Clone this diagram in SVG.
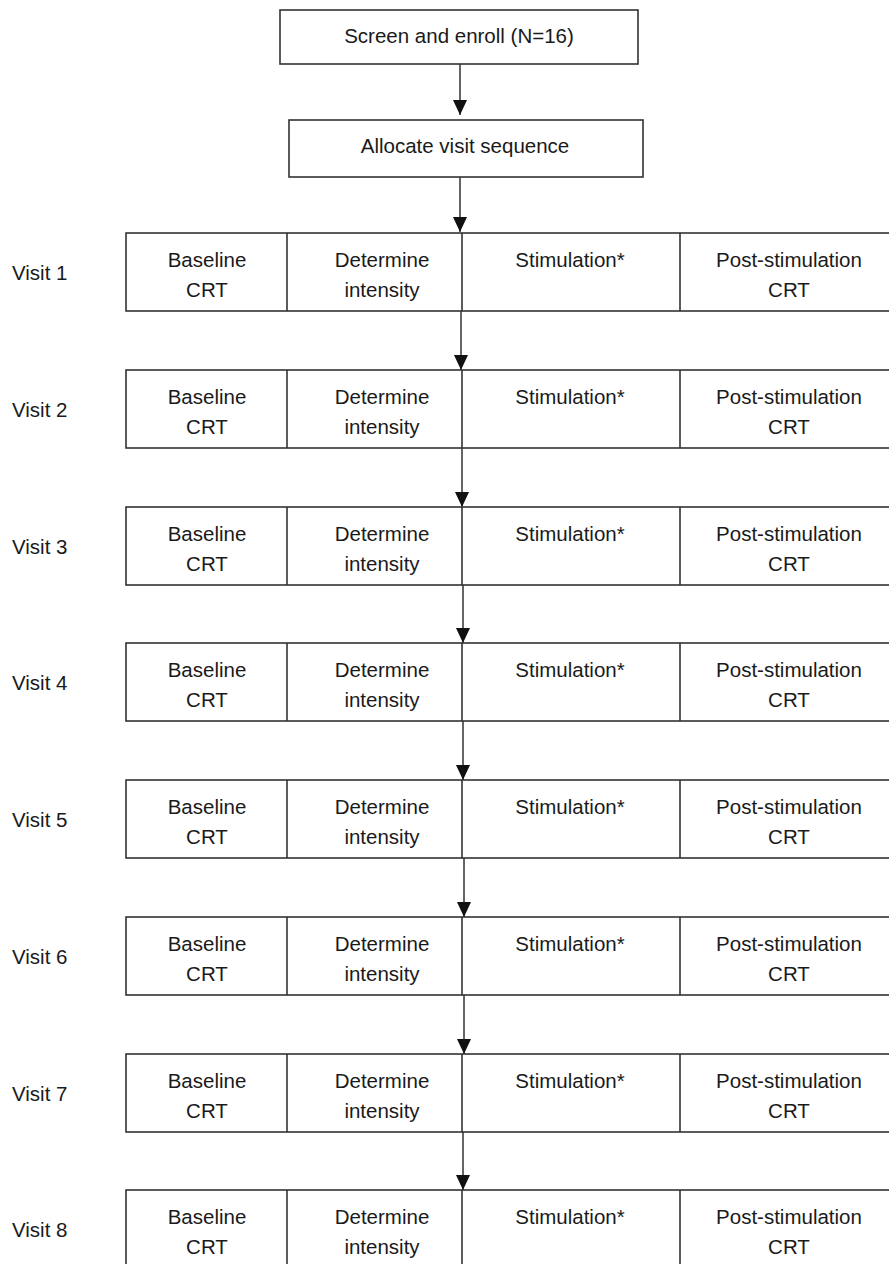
<svg xmlns="http://www.w3.org/2000/svg" width="889" height="1264" viewBox="0 0 889 1264">
<style>
.box{fill:#fff;stroke:#333;stroke-width:1.6}
.div{stroke:#333;stroke-width:1.6}
.t{font-family:"Liberation Sans",Arial,sans-serif;font-size:20.5px;fill:#1a1a1a;text-anchor:middle}
.lbl{font-family:"Liberation Sans",Arial,sans-serif;font-size:20.5px;fill:#1a1a1a}
.arr{stroke:#333;stroke-width:1.5;fill:none;marker-end:url(#ah)}
</style>
<defs>
<marker id="ah" markerWidth="15" markerHeight="14" refX="15" refY="7" orient="auto" markerUnits="userSpaceOnUse" viewBox="0 0 15 14">
<path d="M0,0 L15,7 L0,14 Z" fill="#111"/>
</marker>
<g id="row">
<rect class="box" x="126" y="0" width="771" height="78"/>
<line class="div" x1="287" y1="0" x2="287" y2="78"/>
<line class="div" x1="462" y1="0" x2="462" y2="78"/>
<line class="div" x1="680" y1="0" x2="680" y2="78"/>
<text class="t" x="207" y="34">Baseline</text>
<text class="t" x="207" y="64">CRT</text>
<text class="t" x="382" y="34">Determine</text>
<text class="t" x="382" y="64">intensity</text>
<text class="t" x="570" y="34">Stimulation*</text>
<text class="t" x="789" y="34">Post-stimulation</text>
<text class="t" x="789" y="64">CRT</text>
</g>
</defs>
<g id="connectors">
<line class="arr" x1="460" y1="64" x2="460" y2="115"/>
<line class="arr" x1="460" y1="177" x2="460" y2="232"/>
<line class="arr" x1="461" y1="311" x2="461" y2="370"/>
<line class="arr" x1="462" y1="448" x2="462" y2="507"/>
<line class="arr" x1="463" y1="585" x2="463" y2="643"/>
<line class="arr" x1="463" y1="721" x2="463" y2="780"/>
<line class="arr" x1="464" y1="858" x2="464" y2="917"/>
<line class="arr" x1="464" y1="995" x2="464" y2="1054"/>
<line class="arr" x1="463" y1="1132" x2="463" y2="1190"/>
</g>
<g id="screen">
<rect class="box" x="280" y="10" width="358" height="54"/>
<text class="t" x="459" y="43">Screen and enroll (N=16)</text>
</g>
<g id="allocate">
<rect class="box" x="289" y="120" width="354" height="57"/>
<text class="t" x="465" y="153">Allocate visit sequence</text>
</g>
<g id="visit1"><text class="lbl" x="12" y="280">Visit 1</text><use href="#row" y="233"/></g>
<g id="visit2"><text class="lbl" x="12" y="417">Visit 2</text><use href="#row" y="370"/></g>
<g id="visit3"><text class="lbl" x="12" y="554">Visit 3</text><use href="#row" y="507"/></g>
<g id="visit4"><text class="lbl" x="12" y="690">Visit 4</text><use href="#row" y="643"/></g>
<g id="visit5"><text class="lbl" x="12" y="827">Visit 5</text><use href="#row" y="780"/></g>
<g id="visit6"><text class="lbl" x="12" y="964">Visit 6</text><use href="#row" y="917"/></g>
<g id="visit7"><text class="lbl" x="12" y="1101">Visit 7</text><use href="#row" y="1054"/></g>
<g id="visit8"><text class="lbl" x="12" y="1237">Visit 8</text><use href="#row" y="1190"/></g>
</svg>
